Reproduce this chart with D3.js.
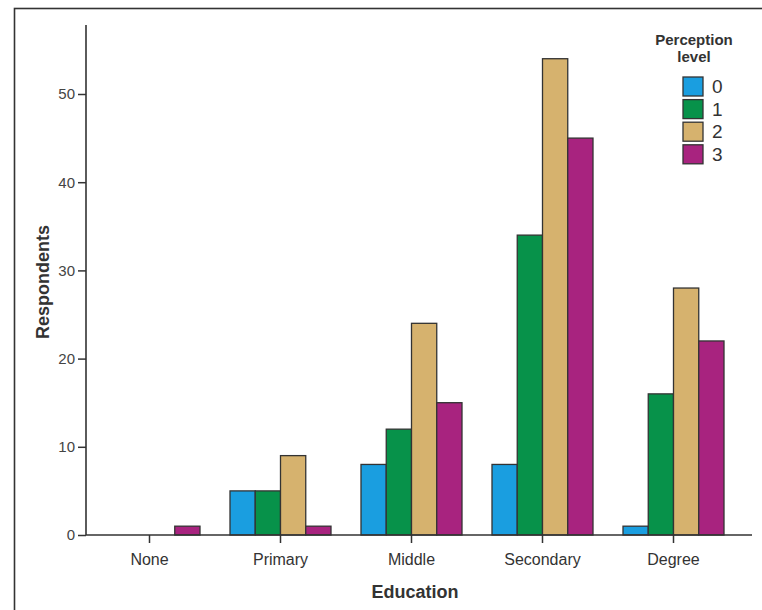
<!DOCTYPE html>
<html>
<head>
<meta charset="utf-8">
<script src="https://cdn.jsdelivr.net/npm/d3@7"></script>
<style>
  html, body { margin: 0; padding: 0; background: #fff; }
  svg { display: block; font-family: Arial, "Liberation Sans", Helvetica, sans-serif; }
</style>
</head>
<body>
<div id="chart"></div>
<script>
const categories = ["None", "Primary", "Middle", "Secondary", "Degree"];
const levels = ["0", "1", "2", "3"];
const level0 = [0, 5, 8, 8, 1];
const level1 = [0, 5, 12, 34, 16];
const level2 = [0, 9, 24, 54, 28];
const level3 = [1, 1, 15, 45, 22];
const yTicks = [0, 10, 20, 30, 40, 50];
const colors = ["#1a9ee0", "#07924a", "#d6b26e", "#a8237f"];

const series = [level0, level1, level2, level3];
const W = 762, H = 610;
const svg = d3.select("#chart").append("svg").attr("width", W).attr("height", H);

// frame
svg.append("rect").attr("x", 14.5).attr("y", 8.5).attr("width", 800).attr("height", 700)
  .attr("fill", "none").attr("stroke", "#333").attr("stroke-width", 1.6);

const x = d3.scaleBand().domain(categories).range([84, 739]);
const xInner = d3.scaleBand().domain(levels).range([-50.5, 50.5]);
const y = d3.scaleLinear().domain([0, 50]).range([535, 94]);

const axisColor = "#333";

// bars
categories.forEach((c, ci) => {
  const g = svg.append("g").attr("transform", `translate(${x(c) + x.bandwidth() / 2},0)`);
  levels.forEach((l, li) => {
    const v = series[li][ci];
    if (v <= 0) return;
    g.append("rect")
      .attr("x", xInner(l))
      .attr("y", y(v))
      .attr("width", xInner.bandwidth())
      .attr("height", y(0) - y(v))
      .attr("fill", colors[li])
      .attr("stroke", "#333")
      .attr("stroke-width", 1.3);
  });
});

// y axis
const yAxis = d3.axisLeft(y).tickValues(yTicks).tickSize(8).tickPadding(3).tickSizeOuter(0);
const yg = svg.append("g").attr("transform", "translate(86,0)").call(yAxis);
yg.attr("font-size", null);
yg.select(".domain").remove();
yg.selectAll("line").attr("stroke", axisColor).attr("stroke-width", 1.5);
yg.selectAll("text").style("font-size", "15px").attr("fill", "#444");
svg.append("line").attr("x1", 86).attr("x2", 86).attr("y1", 25).attr("y2", 535)
  .attr("stroke", axisColor).attr("stroke-width", 1.6);

// x axis
const xAxis = d3.axisBottom(x).tickSize(8).tickPadding(11).tickSizeOuter(0);
const xg = svg.append("g").attr("transform", "translate(0,535)").call(xAxis);
xg.attr("font-size", null);
xg.select(".domain").remove();
xg.selectAll("line").attr("stroke", axisColor).attr("stroke-width", 1.5);
xg.selectAll("text").style("font-size", "16px").attr("fill", "#333");
svg.append("line").attr("x1", 86).attr("x2", 752).attr("y1", 535).attr("y2", 535)
  .attr("stroke", axisColor).attr("stroke-width", 1.6);

// axis titles
svg.append("text").attr("x", 415).attr("y", 598).attr("text-anchor", "middle")
  .attr("font-size", 18).attr("font-weight", "bold").attr("fill", "#333").text("Education");
svg.append("text").attr("transform", "translate(49,282) rotate(-90)").attr("text-anchor", "middle")
  .attr("font-size", 18).attr("font-weight", "bold").attr("fill", "#333").text("Respondents");

// legend
const lg = svg.append("g");
lg.append("text").attr("x", 694).attr("y", 45).attr("text-anchor", "middle")
  .attr("font-size", 15).attr("font-weight", "bold").attr("fill", "#333").text("Perception");
lg.append("text").attr("x", 694).attr("y", 62).attr("text-anchor", "middle")
  .attr("font-size", 15).attr("font-weight", "bold").attr("fill", "#333").text("level");
levels.forEach((l, i) => {
  const yy = 77 + i * 22.6;
  lg.append("rect").attr("x", 683).attr("y", yy).attr("width", 20).attr("height", 19)
    .attr("fill", colors[i]).attr("stroke", "#333").attr("stroke-width", 1.3);
  lg.append("text").attr("x", 712).attr("y", yy + 16).attr("font-size", 19).attr("fill", "#333").text(l);
});
</script>
</body>
</html>
